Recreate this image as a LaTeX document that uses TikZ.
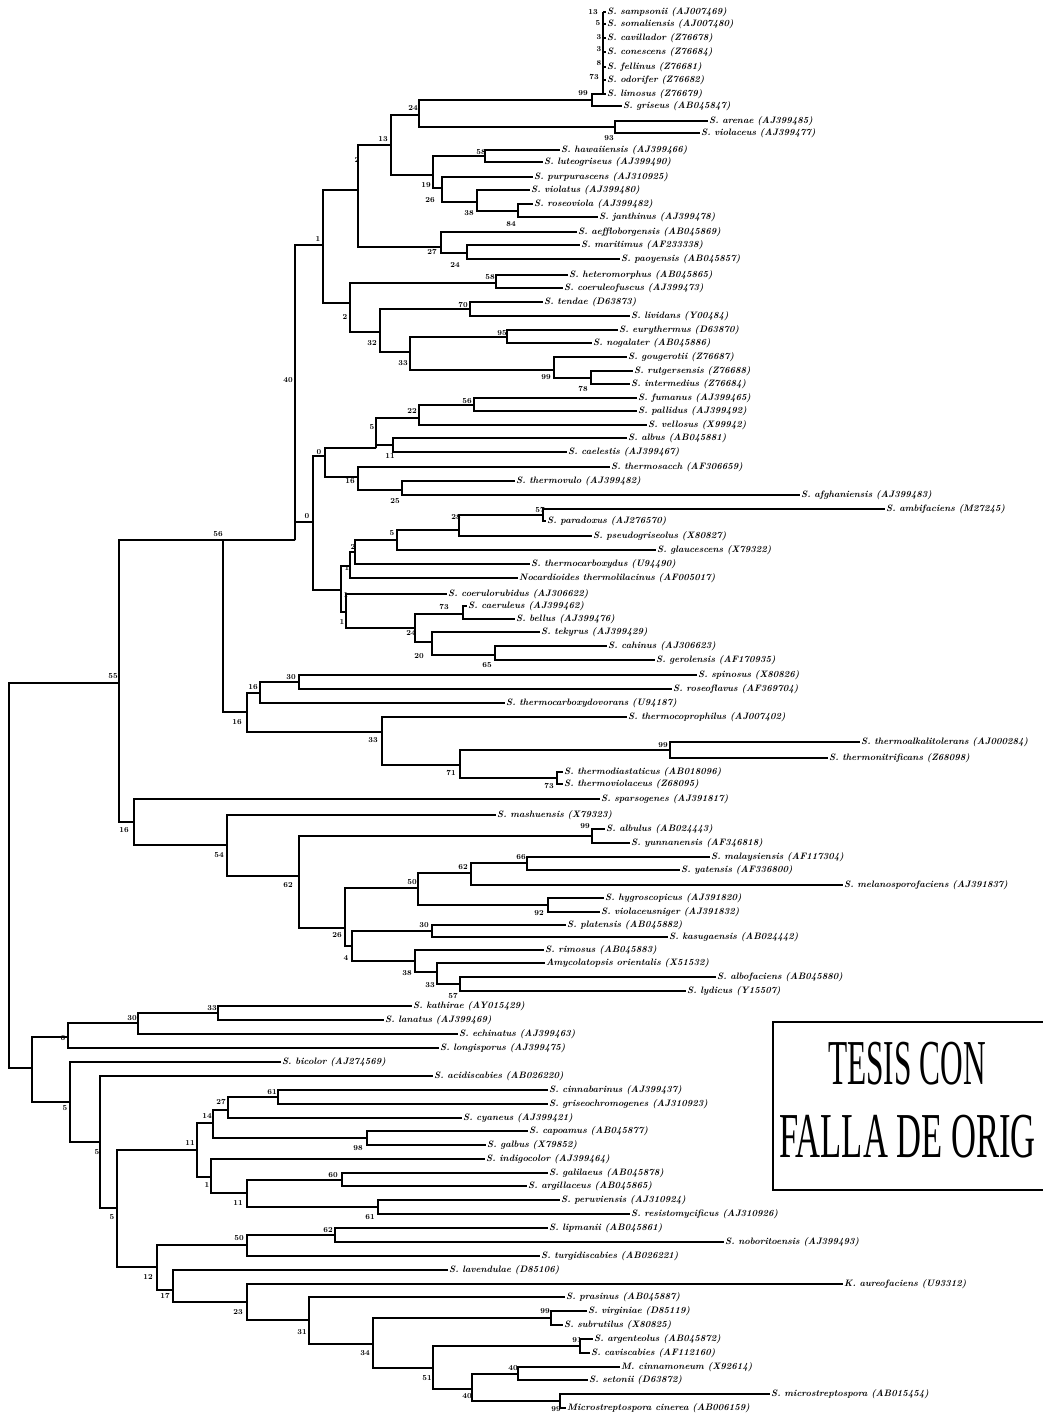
\documentclass[tikz,border=0pt]{standalone}
\usepackage{fontspec}
\newfontfamily\wmfont{Liberation Serif}
\newcommand\leaffont{\fontsize{9.3}{10}\selectfont\bfseries\itshape}
\newcommand\bsfont{\fontsize{7.6}{8}\selectfont\bfseries}
\newcommand\brk[3]{\draw[tree] (#2) -| (#1) |- (#3);}
\tikzset{
  tree/.style={line width=1.6pt, line join=miter},
  leaf/.style={anchor=west, inner sep=1pt, font=\leaffont},
  bs/.style={inner sep=0pt, font=\bsfont},
  wmbox/.style={line width=2.8pt},
}
\begin{document}
\begin{tikzpicture}[x=1pt,y=-1pt]
\useasboundingbox (0,0) rectangle (1043,1416);
\fill[white] (0,0) rectangle (1043,1416);
% ---------------- leaves ----------------
\node[leaf] (L1) at (606,12) {S. sampsonii (AJ007469)};
\node[leaf] (L2) at (606,24) {S. somaliensis (AJ007480)};
\node[leaf] (L3) at (606,38) {S. cavillador (Z76678)};
\node[leaf] (L4) at (606,52) {S. conescens (Z76684)};
\node[leaf] (L5) at (606,67) {S. fellinus (Z76681)};
\node[leaf] (L6) at (606,80) {S. odorifer (Z76682)};
\node[leaf] (L7) at (606,94) {S. limosus (Z76679)};
\node[leaf] (L8) at (622,106) {S. griseus (AB045847)};
\node[leaf] (L9) at (708,121) {S. arenae (AJ399485)};
\node[leaf] (L10) at (700,133) {S. violaceus (AJ399477)};
\node[leaf] (L11) at (560,150) {S. hawaiiensis (AJ399466)};
\node[leaf] (L12) at (543,162) {S. luteogriseus (AJ399490)};
\node[leaf] (L13) at (533,177) {S. purpurascens (AJ310925)};
\node[leaf] (L14) at (530,190) {S. violatus (AJ399480)};
\node[leaf] (L15) at (533,204) {S. roseoviola (AJ399482)};
\node[leaf] (L16) at (598,217) {S. janthinus (AJ399478)};
\node[leaf] (L17) at (577,232) {S. aeffloborgensis (AB045869)};
\node[leaf] (L18) at (580,245) {S. maritimus (AF233338)};
\node[leaf] (L19) at (620,259) {S. paoyensis (AB045857)};
\node[leaf] (L20) at (568,275) {S. heteromorphus (AB045865)};
\node[leaf] (L21) at (563,288) {S. coeruleofuscus (AJ399473)};
\node[leaf] (L22) at (543,302) {S. tendae (D63873)};
\node[leaf] (L23) at (630,316) {S. lividans (Y00484)};
\node[leaf] (L24) at (618,330) {S. eurythermus (D63870)};
\node[leaf] (L25) at (592,343) {S. nogalater (AB045886)};
\node[leaf] (L26) at (627,357) {S. gougerotii (Z76687)};
\node[leaf] (L27) at (633,371) {S. rutgersensis (Z76688)};
\node[leaf] (L28) at (630,384) {S. intermedius (Z76684)};
\node[leaf] (L29) at (637,398) {S. fumanus (AJ399465)};
\node[leaf] (L30) at (637,411) {S. pallidus (AJ399492)};
\node[leaf] (L31) at (647,425) {S. vellosus (X99942)};
\node[leaf] (L32) at (627,438) {S. albus (AB045881)};
\node[leaf] (L33) at (567,452) {S. caelestis (AJ399467)};
\node[leaf] (L34) at (610,467) {S. thermosacch (AF306659)};
\node[leaf] (L35) at (515,481) {S. thermovulo (AJ399482)};
\node[leaf] (L36) at (800,495) {S. afghaniensis (AJ399483)};
\node[leaf] (L37) at (885,509) {S. ambifaciens (M27245)};
\node[leaf] (L38) at (546,521) {S. paradoxus (AJ276570)};
\node[leaf] (L39) at (592,536) {S. pseudogriseolus (X80827)};
\node[leaf] (L40) at (656,550) {S. glaucescens (X79322)};
\node[leaf] (L41) at (530,564) {S. thermocarboxydus (U94490)};
\node[leaf] (L42) at (518,578) {Nocardioides thermolilacinus (AF005017)};
\node[leaf] (L43) at (447,594) {S. coerulorubidus (AJ306622)};
\node[leaf] (L44) at (467,606) {S. caeruleus (AJ399462)};
\node[leaf] (L45) at (515,619) {S. bellus (AJ399476)};
\node[leaf] (L46) at (540,632) {S. tekyrus (AJ399429)};
\node[leaf] (L47) at (607,646) {S. cahinus (AJ306623)};
\node[leaf] (L48) at (655,660) {S. gerolensis (AF170935)};
\node[leaf] (L49) at (697,675) {S. spinosus (X80826)};
\node[leaf] (L50) at (672,689) {S. roseoflavus (AF369704)};
\node[leaf] (L51) at (505,703) {S. thermocarboxydovorans (U94187)};
\node[leaf] (L52) at (627,717) {S. thermocoprophilus (AJ007402)};
\node[leaf] (L53) at (860,742) {S. thermoalkalitolerans (AJ000284)};
\node[leaf] (L54) at (828,758) {S. thermonitrificans (Z68098)};
\node[leaf] (L55) at (563,772) {S. thermodiastaticus (AB018096)};
\node[leaf] (L56) at (563,784) {S. thermoviolaceus (Z68095)};
\node[leaf] (L57) at (600,799) {S. sparsogenes (AJ391817)};
\node[leaf] (L58) at (496,815) {S. mashuensis (X79323)};
\node[leaf] (L59) at (605,829) {S. albulus (AB024443)};
\node[leaf] (L60) at (630,843) {S. yunnanensis (AF346818)};
\node[leaf] (L61) at (710,857) {S. malaysiensis (AF117304)};
\node[leaf] (L62) at (680,870) {S. yatensis (AF336800)};
\node[leaf] (L63) at (843,885) {S. melanosporofaciens (AJ391837)};
\node[leaf] (L64) at (604,898) {S. hygroscopicus (AJ391820)};
\node[leaf] (L65) at (600,912) {S. violaceusniger (AJ391832)};
\node[leaf] (L66) at (566,925) {S. platensis (AB045882)};
\node[leaf] (L67) at (668,937) {S. kasugaensis (AB024442)};
\node[leaf] (L68) at (544,950) {S. rimosus (AB045883)};
\node[leaf] (L69) at (545,963) {Amycolatopsis orientalis (X51532)};
\node[leaf] (L70) at (716,977) {S. albofaciens (AB045880)};
\node[leaf] (L71) at (686,991) {S. lydicus (Y15507)};
\node[leaf] (L72) at (412,1006) {S. kathirae (AY015429)};
\node[leaf] (L73) at (384,1020) {S. lanatus (AJ399469)};
\node[leaf] (L74) at (458,1034) {S. echinatus (AJ399463)};
\node[leaf] (L75) at (439,1048) {S. longisporus (AJ399475)};
\node[leaf] (L76) at (281,1062) {S. bicolor (AJ274569)};
\node[leaf] (L77) at (433,1076) {S. acidiscabies (AB026220)};
\node[leaf] (L78) at (548,1090) {S. cinnabarinus (AJ399437)};
\node[leaf] (L79) at (548,1104) {S. griseochromogenes (AJ310923)};
\node[leaf] (L80) at (462,1118) {S. cyaneus (AJ399421)};
\node[leaf] (L81) at (528,1131) {S. capoamus (AB045877)};
\node[leaf] (L82) at (486,1145) {S. galbus (X79852)};
\node[leaf] (L83) at (485,1159) {S. indigocolor (AJ399464)};
\node[leaf] (L84) at (548,1173) {S. galilaeus (AB045878)};
\node[leaf] (L85) at (527,1186) {S. argillaceus (AB045865)};
\node[leaf] (L86) at (560,1200) {S. peruviensis (AJ310924)};
\node[leaf] (L87) at (630,1214) {S. resistomycificus (AJ310926)};
\node[leaf] (L88) at (548,1228) {S. lipmanii (AB045861)};
\node[leaf] (L89) at (724,1242) {S. noboritoensis (AJ399493)};
\node[leaf] (L90) at (540,1256) {S. turgidiscabies (AB026221)};
\node[leaf] (L91) at (448,1270) {S. lavendulae (D85106)};
\node[leaf] (L92) at (843,1284) {K. aureofaciens (U93312)};
\node[leaf] (L93) at (565,1297) {S. prasinus (AB045887)};
\node[leaf] (L94) at (587,1311) {S. virginiae (D85119)};
\node[leaf] (L95) at (563,1325) {S. subrutilus (X80825)};
\node[leaf] (L96) at (593,1339) {S. argenteolus (AB045872)};
\node[leaf] (L97) at (590,1353) {S. caviscabies (AF112160)};
\node[leaf] (L98) at (620,1367) {M. cinnamoneum (X92614)};
\node[leaf] (L99) at (588,1380) {S. setonii (D63872)};
\node[leaf] (L100) at (770,1394) {S. microstreptospora (AB015454)};
\node[leaf] (L101) at (566,1408) {Microstreptospora cinerea (AB006159)};
% ---------------- internal nodes ----------------
\coordinate (cl) at (603,94);
\coordinate (n99) at (592,100);
\coordinate (n93) at (615,127);
\coordinate (n24) at (419,115);
\coordinate (n58) at (485,156);
\coordinate (n84) at (518,211);
\coordinate (n38) at (477,202);
\coordinate (n26) at (442,188);
\coordinate (n19) at (433,175);
\coordinate (n13) at (391,145);
\coordinate (n24b) at (467,253);
\coordinate (n27) at (441,247);
\coordinate (n2a) at (358,190);
\coordinate (n58b) at (496,283);
\coordinate (n70) at (470,309);
\coordinate (n95) at (507,337);
\coordinate (n78) at (591,378);
\coordinate (n99b) at (554,370);
\coordinate (n33) at (410,352);
\coordinate (n32) at (380,332);
\coordinate (n2c) at (350,303);
\coordinate (n1) at (323,245);
\coordinate (n56s) at (474,405);
\coordinate (n22) at (419,418);
\coordinate (n11) at (393,445);
\coordinate (n5b) at (376,448);
\coordinate (n25) at (402,490);
\coordinate (n16) at (358,477);
\coordinate (n0a) at (325,456);
\coordinate (n57) at (543,515);
\coordinate (n28) at (459,530);
\coordinate (n5) at (397,540);
\coordinate (n2) at (355,552);
\coordinate (n1a) at (350,566);
\coordinate (n73b) at (463,614);
\coordinate (n65) at (495,655);
\coordinate (n20) at (432,642);
\coordinate (n24c) at (415,628);
\coordinate (n1b) at (346,612);
\coordinate (n1c) at (341,590);
\coordinate (n0b) at (313,522);
\coordinate (n40) at (295,540);
\coordinate (n30) at (299,682);
\coordinate (n16b) at (260,693);
\coordinate (n99c) at (670,750);
\coordinate (n73c) at (557,778);
\coordinate (n71) at (460,765);
\coordinate (n33b) at (382,732);
\coordinate (n16a) at (247,712);
\coordinate (n56) at (223,540);
\coordinate (n99f) at (592,836);
\coordinate (n66) at (527,863);
\coordinate (n62c) at (471,873);
\coordinate (n92) at (548,905);
\coordinate (n50b) at (418,888);
\coordinate (n30c) at (432,931);
\coordinate (n57c) at (460,984);
\coordinate (n33e) at (437,972);
\coordinate (n38c) at (415,961);
\coordinate (n4) at (352,946);
\coordinate (n26b) at (345,928);
\coordinate (n62b) at (299,876);
\coordinate (n54) at (227,845);
\coordinate (n16c) at (134,822);
\coordinate (n55) at (119,683);
\coordinate (n33c) at (218,1013);
\coordinate (n30b) at (138,1023);
\coordinate (n6) at (68,1037);
\coordinate (n61) at (278,1097);
\coordinate (n27b) at (228,1110);
\coordinate (n98) at (367,1138);
\coordinate (n14) at (213,1123);
\coordinate (n60) at (342,1180);
\coordinate (n61b) at (378,1207);
\coordinate (n11b) at (247,1193);
\coordinate (nJ) at (211,1177);
\coordinate (n11d) at (197,1150);
\coordinate (n62d) at (335,1235);
\coordinate (n50) at (247,1245);
\coordinate (n99d) at (551,1318);
\coordinate (n91) at (580,1346);
\coordinate (n40c) at (518,1374);
\coordinate (n99e) at (560,1401);
\coordinate (n40b) at (472,1389);
\coordinate (n51) at (433,1368);
\coordinate (n34) at (373,1344);
\coordinate (n31) at (309,1320);
\coordinate (n23) at (247,1302);
\coordinate (n17) at (173,1290);
\coordinate (n12) at (157,1267);
\coordinate (n5c) at (117,1208);
\coordinate (n5e) at (100,1142);
\coordinate (n5a) at (70,1102);
\coordinate (nX) at (32,1068);
\coordinate (root) at (9,1068);
% ---------------- branches ----------------
\foreach \i in {1,...,7} {\draw[tree] (cl |- L\i) -- (L\i);}
\draw[tree] (cl |- L1) -- (cl);
\brk{n99}{cl}{L8}
\brk{n93}{L9}{L10}
\brk{n24}{n99}{n93}
\brk{n58}{L11}{L12}
\brk{n84}{L15}{L16}
\brk{n38}{L14}{n84}
\brk{n26}{L13}{n38}
\brk{n19}{n58}{n26}
\brk{n13}{n24}{n19}
\brk{n24b}{L18}{L19}
\brk{n27}{L17}{n24b}
\brk{n2a}{n13}{n27}
\brk{n58b}{L20}{L21}
\brk{n70}{L22}{L23}
\brk{n95}{L24}{L25}
\brk{n78}{L27}{L28}
\brk{n99b}{L26}{n78}
\brk{n33}{n95}{n99b}
\brk{n32}{n70}{n33}
\brk{n2c}{n58b}{n32}
\brk{n1}{n2a}{n2c}
\brk{n56s}{L29}{L30}
\brk{n22}{n56s}{L31}
\brk{n11}{L32}{L33}
\brk{n5b}{n22}{n11}
\brk{n25}{L35}{L36}
\brk{n16}{L34}{n25}
\brk{n0a}{n5b}{n16}
\brk{n57}{L37}{L38}
\brk{n28}{n57}{L39}
\brk{n5}{n28}{L40}
\brk{n2}{n5}{L41}
\brk{n1a}{n2}{L42}
\brk{n73b}{L44}{L45}
\brk{n65}{L47}{L48}
\brk{n20}{L46}{n65}
\brk{n24c}{n73b}{n20}
\brk{n1b}{L43}{n24c}
\brk{n1c}{n1a}{n1b}
\brk{n0b}{n0a}{n1c}
\brk{n40}{n1}{n0b}
\brk{n30}{L49}{L50}
\brk{n16b}{n30}{L51}
\brk{n99c}{L53}{L54}
\brk{n73c}{L55}{L56}
\brk{n71}{n99c}{n73c}
\brk{n33b}{L52}{n71}
\brk{n16a}{n16b}{n33b}
\brk{n56}{n40}{n16a}
\brk{n99f}{L59}{L60}
\brk{n66}{L61}{L62}
\brk{n62c}{n66}{L63}
\brk{n92}{L64}{L65}
\brk{n50b}{n62c}{n92}
\brk{n30c}{L66}{L67}
\brk{n57c}{L70}{L71}
\brk{n33e}{L69}{n57c}
\brk{n38c}{L68}{n33e}
\brk{n4}{n30c}{n38c}
\brk{n26b}{n50b}{n4}
\brk{n62b}{n99f}{n26b}
\brk{n54}{L58}{n62b}
\brk{n16c}{L57}{n54}
\brk{n55}{n56}{n16c}
\brk{n33c}{L72}{L73}
\brk{n30b}{n33c}{L74}
\brk{n6}{n30b}{L75}
\brk{n61}{L78}{L79}
\brk{n27b}{n61}{L80}
\brk{n98}{L81}{L82}
\brk{n14}{n27b}{n98}
\brk{n60}{L84}{L85}
\brk{n61b}{L86}{L87}
\brk{n11b}{n60}{n61b}
\brk{nJ}{L83}{n11b}
\brk{n11d}{n14}{nJ}
\brk{n62d}{L88}{L89}
\brk{n50}{n62d}{L90}
\brk{n99d}{L94}{L95}
\brk{n91}{L96}{L97}
\brk{n40c}{L98}{L99}
\brk{n99e}{L100}{L101}
\brk{n40b}{n40c}{n99e}
\brk{n51}{n91}{n40b}
\brk{n34}{n99d}{n51}
\brk{n31}{L93}{n34}
\brk{n23}{L92}{n31}
\brk{n17}{L91}{n23}
\brk{n12}{n50}{n17}
\brk{n5c}{n11d}{n12}
\brk{n5e}{L77}{n5c}
\brk{n5a}{L76}{n5e}
\brk{nX}{n6}{n5a}
\brk{root}{n55}{nX}
% ---------------- bootstrap values ----------------
\foreach \v/\x/\y [count=\k] in {
 13/593/12, 5/598/23, 3/599/37, 3/599/49, 8/599/63, 73/594/77, 99/583/93,
 24/413/108, 93/609/138, 13/383/139, 2/357/160, 58/481/152, 19/426/185,
 26/430/200, 38/469/213, 84/511/224, 27/432/252, 24/455/265, 1/318/239,
 58/490/277, 70/463/305, 2/345/317, 95/502/333, 32/372/343, 33/403/363,
 99/546/377, 78/583/389, 40/288/380, 56/467/401, 22/412/411, 5/372/427,
 0/319/452, 11/390/456, 16/350/481, 25/395/501, 57/540/510, 0/307/516,
 28/456/517, 5/392/533, 56/218/534, 2/353/547, 1/347/568, 1/346/595,
 73/444/607, 1/342/622, 24/411/633, 20/419/656, 65/487/665, 55/113/676,
 30/291/677, 16/253/687, 16/237/722, 33/373/740, 99/663/745, 71/451/773,
 73/549/786, 16/124/830, 54/219/855, 99/585/826, 66/521/857, 62/463/867,
 50/412/882, 62/288/885, 92/539/913, 26/337/935, 30/424/925, 4/346/958,
 38/407/973, 33/430/985, 57/453/996, 33/212/1008, 30/132/1018, 6/63/1038,
 5/65/1108, 61/272/1092, 27/221/1102, 14/207/1116, 11/190/1143, 98/358/1148,
 5/97/1152, 60/333/1175, 1/207/1185, 11/238/1203, 5/112/1217, 61/370/1217,
 62/328/1230, 50/239/1238, 12/148/1277, 17/165/1296, 99/545/1311, 23/238/1312,
 31/302/1332, 91/577/1340, 34/365/1353, 40/513/1368, 51/427/1378, 40/467/1396,
 99/556/1409}
 {\node[bs] (b\k) at (\x,\y) {\v};}
% ---------------- stamp ----------------
\begin{scope}
\clip (0,0) rectangle (1043,1416);
\draw[wmbox] (773,1022) rectangle (1060,1190);
\node[inner sep=0pt, anchor=base, font=\wmfont\fontsize{64}{64}\selectfont] (t1) at (907,1084) {\scalebox{0.49}[1]{TESIS CON}};
\node[inner sep=0pt, anchor=base west, font=\wmfont\fontsize{64}{64}\selectfont] (t2) at (779,1157) {\scalebox{0.54}[1]{FALLA DE ORIG}};
\end{scope}
\end{tikzpicture}
\end{document}
